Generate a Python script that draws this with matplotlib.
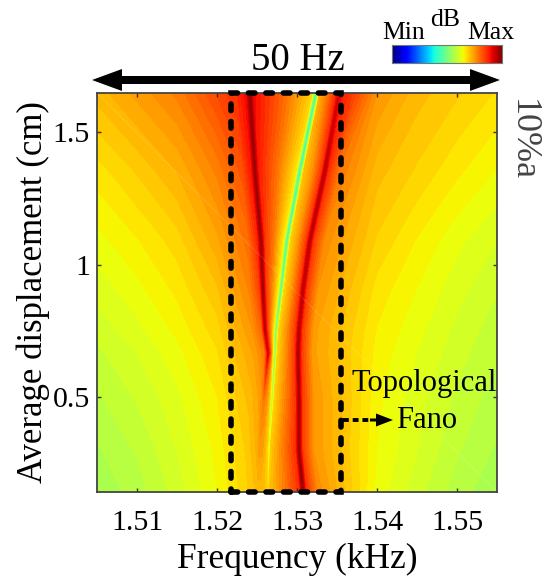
import numpy as np
import matplotlib
matplotlib.use('Agg')
import matplotlib.pyplot as plt
from matplotlib.patches import Rectangle, FancyArrow
from matplotlib.transforms import IdentityTransform

plt.rcParams['font.family'] = ['Liberation Serif', 'DejaVu Serif']

W, H = 543, 577

# rows of the map, bottom to top (cm)
displacement = [0.143, 0.302, 0.49, 0.668, 0.755, 0.906, 1.094, 1.358, 1.649]

# where the three resonances sit in each row (kHz)
f_left = [1.5250, 1.5253, 1.5258, 1.5264, 1.5260, 1.52575, 1.5255, 1.52475, 1.5241]
f_fano = [1.52638, 1.5265, 1.52688, 1.52725, 1.52738, 1.5280, 1.52875, 1.53038, 1.53238]
f_right = [1.53075, 1.53025, 1.53025, 1.53013, 1.53025, 1.53075, 1.53163, 1.5335, 1.53525]
fano_halfwidth = [.0002, .0002, .00025, .0003, .00035, .0004, .00045, .0005, .0005]

f_bg_left = [1.505, 1.51, 1.515, 1.52]
f_bg_right = [1.54, 1.545, 1.55, 1.555]

# colour level (0 = Min, 1 = Max), one list per column
z_bg_left = [
    [.55, .56, .575, .59, .60, .615, .635, .665, .71],
    [.57, .58, .595, .61, .62, .635, .655, .69, .74],
    [.60, .61, .62, .635, .645, .66, .68, .72, .77],
    [.64, .645, .655, .67, .68, .70, .73, .77, .83],
]
z_left = [
    [.68, .69, .71, .74, .75, .77, .79, .82, .86],
    [.70, .72, .74, .78, .80, .84, .87, .89, .90],
    [.71, .74, .78, .92, .94, .96, .97, .97, .98],
    [.71, .74, .76, .82, .82, .84, .86, .88, .90],
]
z_gap_lf = [.71, .72, .73, .74, .75, .76, .77, .78, .80]
z_fano = [
    [.69, .68, .67, .66, .66, .65, .65, .66, .68],
    [.65, .58, .53, .48, .45, .42, .40, .38, .38],
    [.70, .69, .68, .68, .68, .68, .68, .70, .72],
]
z_gap_fr = [.78, .78, .77, .76, .76, .75, .75, .75, .78]
z_right = [
    [.86, .86, .85, .85, .85, .85, .85, .85, .86],
    [.98, .97, .96, .96, .95, .95, .95, .95, .92],
    [.86, .85, .85, .85, .85, .85, .85, .86, .88],
    [.76, .75, .75, .74, .74, .75, .76, .78, .84],
]
z_bg_right = [
    [.635, .64, .645, .65, .655, .665, .685, .71, .75],
    [.60, .61, .615, .625, .63, .64, .655, .685, .71],
    [.57, .58, .59, .60, .605, .615, .63, .66, .69],
    [.55, .56, .57, .58, .585, .595, .61, .64, .67],
]

x_ticks = [1.51, 1.52, 1.53, 1.54, 1.55]
y_ticks = [0.5, 1, 1.5]
y_labels = ['0.5', '1', '1.5']


def build_columns():
    """Stack the columns left to right, each one following its resonance."""
    L, F, R = np.array(f_left), np.array(f_fano), np.array(f_right)
    n = len(L)
    hw = np.array(fano_halfwidth)
    dl = np.minimum(0.0004, 0.3 * (F - L))
    cols = [np.full(n, f) for f in f_bg_left]
    cols += [L - 0.0016, L - 0.0004, L, L + dl]
    cols += [(L + F) / 2]
    cols += [F - hw, F, F + hw]
    cols += [(F + R) / 2]
    cols += [R - 0.0004, R, R + 0.0004, R + 0.0018]
    cols += [np.full(n, f) for f in f_bg_right]
    vals = z_bg_left + z_left + [z_gap_lf] + z_fano + [z_gap_fr] + z_right + z_bg_right
    return np.array(cols).T, np.array(vals).T


def fig_xy(px, py):
    return px / W, 1 - py / H


def head(px, py, dx, width, head_width, head_length):
    """Solid arrow drawn in picture pixels."""
    fig.add_artist(FancyArrow(px, H - py, dx, 0, width=width, head_width=head_width,
                              head_length=head_length, length_includes_head=True,
                              color='black', lw=0, transform=IdentityTransform()))


fig = plt.figure(figsize=(W / 100, H / 100), dpi=100)
ax = fig.add_axes([97 / W, 1 - 492 / H, 400 / W, 399 / H])

X, Z = build_columns()
Y = np.tile(np.array(displacement)[:, None], (1, X.shape[1]))
ax.contourf(X, Y, Z, levels=np.linspace(0, 1, 65), cmap='jet', vmin=0, vmax=1)
# faint mesh diagonal
ax.plot([0, 1], [1, 0], transform=ax.transAxes, color='white', alpha=0.12, lw=0.8)

ax.set_xlim(1.505, 1.555)
ax.set_ylim(0.143, 1.649)
ax.set_xticks(x_ticks)
ax.set_xticklabels([f'{v:.2f}' for v in x_ticks])
ax.set_yticks(y_ticks)
ax.set_yticklabels(y_labels)
ax.tick_params(direction='in', top=True, right=True, length=3, width=1, color='#333333',
               labelsize=21.5)
ax.tick_params(axis='x', pad=13)
ax.tick_params(axis='y', pad=5)
for s in ax.spines.values():
    s.set_color('#444444')
    s.set_linewidth(1.3)
ax.set_xlabel('Frequency (kHz)', fontsize=25.5, labelpad=5)
ax.set_ylabel('Average displacement (cm)', fontsize=25, labelpad=2)

# dashed box round the resonances
ax.add_patch(Rectangle((1.5218, 0.143), 0.0137, 1.506, fill=False, ec='black', lw=4,
                       ls=(0, (1.2, 1.95)), capstyle='round', clip_on=False, zorder=5))

# 50 Hz span arrow
head(298, 80, 202, 8, 22, 30)
head(298, 80, -206, 8, 22, 30)
fig.text(*fig_xy(298, 60), '50 Hz', fontsize=28, ha='center', va='center')

# Topological Fano callout
ax.plot([343 / W, 372 / W], [1 - 420 / H, 1 - 420 / H], transform=fig.transFigure, color='black',
        lw=2.8, ls=(0, (1.5, 1)), clip_on=False, zorder=6)
head(370, 420, 23, 3, 13, 17)
fig.text(*fig_xy(424, 384), 'Topological', fontsize=22, ha='center', va='center')
fig.text(*fig_xy(427, 421), 'Fano', fontsize=22, ha='center', va='center')

fig.text(*fig_xy(522, 140), '10%a', fontsize=26, color='#444444', rotation=270,
         ha='center', va='center')

# colour bar
cax = fig.add_axes([392 / W, 1 - 63 / H, 110 / W, 18 / H])
cax.imshow(np.linspace(0, 1, 64)[None, :], aspect='auto', cmap='jet', vmin=0, vmax=1)
cax.set_xticks([])
cax.set_yticks([])
for s in cax.spines.values():
    s.set_color('#777777')
fig.text(*fig_xy(404, 33), 'Min', fontsize=18.5, ha='center', va='center')
fig.text(*fig_xy(445, 20), 'dB', fontsize=18.5, ha='center', va='center')
fig.text(*fig_xy(491, 33), 'Max', fontsize=18.5, ha='center', va='center')

fig.savefig('out.png', dpi=100)
